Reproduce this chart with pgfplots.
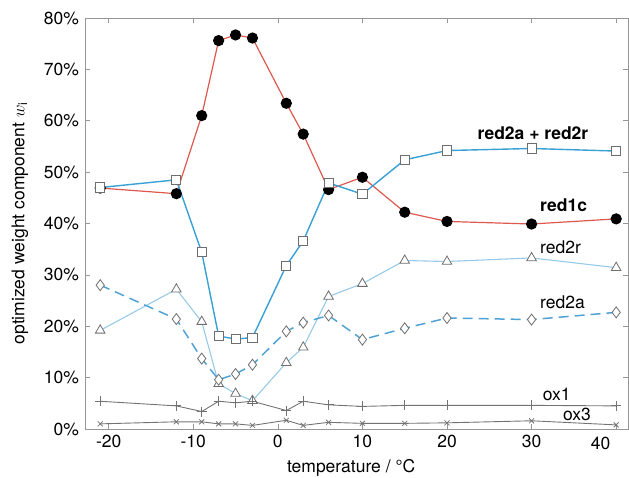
\documentclass[border=0pt]{standalone}
\usepackage{pgfplots}
\pgfplotsset{compat=1.18}
\usepackage{fontspec}
\setmainfont{TeX Gyre Heros}
\definecolor{redl}{RGB}{222,88,78}
\definecolor{bluesum}{RGB}{55,160,212}
\definecolor{bluer}{RGB}{150,202,232}
\definecolor{bluea}{RGB}{80,162,212}
\definecolor{mkgray}{RGB}{110,110,110}
\definecolor{oxgray}{RGB}{115,115,115}
\definecolor{framegray}{RGB}{150,150,150}
\pgfplotstableread{
T red1c sum red2r red2a ox1 ox3
-21 46.9 47.0 19.2 28.0 5.4 1.0
-12 45.8 48.5 27.2 21.4 4.5 1.4
-9 61.0 34.4 20.9 13.7 3.4 1.4
-7 75.6 18.1 8.8 9.6 5.4 1.0
-5 76.7 17.5 6.9 10.7 5.1 1.0
-3 76.1 17.8 5.5 12.5 5.4 0.7
1 63.4 31.8 12.9 19.0 3.6 1.7
3 57.4 36.6 15.9 20.7 5.4 0.7
6 46.6 47.9 25.8 22.1 4.7 1.3
10 49.0 45.7 28.3 17.4 4.4 1.1
15 42.2 52.4 32.8 19.6 4.6 1.1
20 40.4 54.2 32.6 21.6 4.6 1.2
30 39.9 54.6 33.3 21.3 4.6 1.6
40 40.9 54.1 31.4 22.7 4.5 0.8
}\datatab
\begin{document}
\fontsize{17.5bp}{21bp}\selectfont
\begin{tikzpicture}
\begin{axis}[
  scale only axis,
  width=543bp, height=411bp,
  xmin=-22.8, xmax=41.4,
  ymin=0, ymax=80,
  axis line style={framegray, line width=0.6pt},
  tick style={framegray, line width=0.6pt},
  tick align=inside,
  major tick length=5bp,
  xtick={-20,-10,0,10,20,30,40},
  xticklabels={-20,-10,0,10,20,30,{}},
  ytick={0,10,20,30,40,50,60,70,80},
  yticklabels={0\%,10\%,20\%,30\%,40\%,50\%,60\%,70\%,80\%},
  xlabel={temperature / °C},
  ylabel={optimized weight component $w_{\mathrm{i}}$},
  xlabel style={at={(axis description cs:0.49,-0.095)}, anchor=center},
  ylabel style={at={(axis description cs:-0.12,0.5)}, anchor=center},
  clip=false,
]
\addplot[redl, line width=1.2pt, mark=*, mark size=5bp, mark options={fill=black, draw=black}] table[x=T, y=red1c] {\datatab};
\addplot[bluesum, line width=1.4pt, mark=square*, mark size=4.6bp, mark options={fill=white, draw=mkgray, line width=0.9pt, solid}] table[x=T, y=sum] {\datatab};
\addplot[bluer, line width=1.1pt, mark=triangle*, mark size=5.5bp, mark options={fill=white, draw=mkgray, line width=0.8pt, solid}] table[x=T, y=red2r] {\datatab};
\addplot[bluea, line width=1.5pt, dash pattern=on 10bp off 6bp, mark=diamond*, mark size=5.5bp, mark options={fill=white, draw=mkgray, line width=0.8pt, solid}] table[x=T, y=red2a] {\datatab};
\addplot[oxgray, line width=0.9pt, mark=+, mark size=5bp, mark options={solid, oxgray, line width=0.8pt}] table[x=T, y=ox1] {\datatab};
\addplot[oxgray, line width=0.9pt, mark=x, mark size=3.5bp, mark options={solid, oxgray, line width=0.8pt}] table[x=T, y=ox3] {\datatab};
\node[anchor=west, inner sep=0pt, font=\bfseries] at (axis cs:23.6,57.5) {red2a + red2r};
\node[anchor=west, inner sep=0pt, font=\bfseries] at (axis cs:31.0,43.5) {red1c};
\node[anchor=west, inner sep=0pt] at (axis cs:31.0,35.3) {red2r};
\node[anchor=west, inner sep=0pt] at (axis cs:31.0,24.7) {red2a};
\node[anchor=west, inner sep=0pt] at (axis cs:31.3,6.8) {ox1};
\node[anchor=west, inner sep=0pt] at (axis cs:33.7,2.9) {ox3};
\node[anchor=north, inner sep=0pt] at ([xshift=-15.5bp, yshift=-8bp]axis cs:40,0) {40};
\end{axis}
\pgfresetboundingbox
\path ([xshift=-85bp,yshift=-49bp]current axis.south west) rectangle ([xshift=1bp,yshift=18bp]current axis.north east);
\end{tikzpicture}
\end{document}
